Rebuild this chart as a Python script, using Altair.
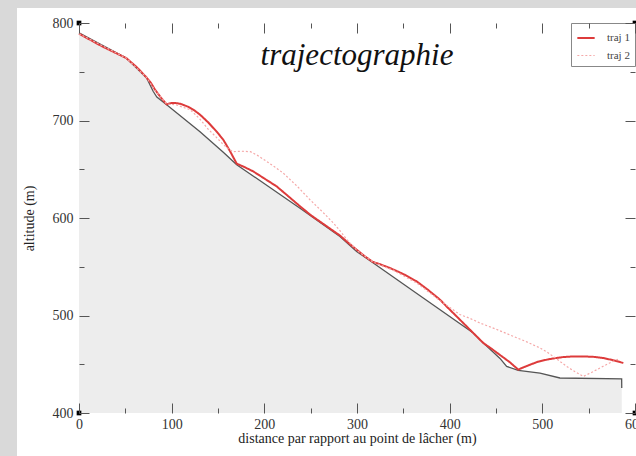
import altair as alt
import pandas as pd

# ---- data ----
terrain_x = [0, 51, 73, 80, 84, 94.6, 130.6, 155.7, 170.2, 238.5, 281.6, 299.6, 317.6,
             371.5, 425.5, 432.7, 454.3, 461.5, 474, 497.5, 519, 585.6, 585.7]
terrain_y = [790, 764, 743.6, 730, 724, 716.2, 688.5, 667.5, 654.7, 610, 581, 565.7, 553.8,
             518, 482, 475, 456, 447.8, 443.7, 441, 435.9, 434.9, 425.6]

traj1_x = [0, 25, 51, 62, 73, 78, 82, 88, 94.6, 99, 103.6, 110, 118, 125, 130.6, 139.5,
           148.6, 155.7, 163, 170.2, 178, 188, 200, 213.3, 225, 238.5, 250, 267.3, 281.6,
           290, 299.6, 308, 317, 325, 335.6, 350, 364.4, 377, 389.6, 398, 407.6, 421.9,
           436.3, 445, 454.3, 465, 474, 480, 486.7, 495, 504.6, 514, 522.6, 533, 544.2,
           555, 565.8, 577, 587.4]
traj1_y = [789, 776, 764, 755, 744, 738, 731.6, 724, 716.5, 717.8, 718, 717, 714, 710, 706,
           698, 688.5, 680.3, 668.5, 655.7, 652.5, 647.8, 640.5, 632.4, 623, 612, 603,
           591.5, 582, 575, 567.5, 561, 555, 552.5, 548.7, 542.5, 535, 526, 516.2, 508,
           499, 485.4, 471.8, 466, 459.5, 452, 444.5, 447, 449.5, 452.5, 454.7, 456.3,
           457.4, 458, 458, 457.6, 456.4, 454, 451.3]

traj2_x = [0, 51, 73, 82, 94.6, 105, 120, 130, 139.5, 148, 155, 161, 166, 175, 185, 193,
           202.5, 211, 220.5, 235, 249, 262, 274.4, 282, 288.9, 299.6, 317, 340, 365, 390,
           411, 422, 432.7, 450, 468.7, 483, 497.5, 505, 511.8, 519, 526.2, 535, 544.2,
           553, 562.2, 572, 582]
traj2_y = [789, 764, 744, 731, 717, 716, 711, 702, 691, 683, 676, 671, 668, 668.5, 668,
           664, 658, 652.5, 646, 633, 619, 607, 595, 586.5, 578, 567, 555, 546, 533, 515,
           501, 497, 492.3, 486, 478.6, 473, 466.7, 462.5, 458, 453, 447.8, 442.5, 437.5,
           441.5, 446.2, 451, 455.4]

series_names = ["traj 1", "traj 2"]
series_colors = ["#dd3b3b", "#f5a8a8"]
series_widths = [2, 1.2]
series_dash = [[1, 0], [2, 2]]

x_domain = [0, 600]
y_domain = [400, 800]
x_major = [0, 100, 200, 300, 400, 500, 600]
x_minor = [50, 150, 250, 350, 450, 550]
y_major = [400, 500, 600, 700, 800]
y_minor = [450, 550, 650, 750]

title_text = "trajectographie"
x_title = "distance par rapport au point de lâcher (m)"
y_title = "altitude (m)"

FONT = "Liberation Serif"

# ---- tables ----
terrain = pd.DataFrame({"x": terrain_x, "y": terrain_y,
                        "base": [y_domain[0]] * len(terrain_x),
                        "i": list(range(len(terrain_x)))})
traj = pd.concat([
    pd.DataFrame({"x": traj1_x, "y": traj1_y, "traj": series_names[0],
                  "i": list(range(len(traj1_x)))}),
    pd.DataFrame({"x": traj2_x, "y": traj2_y, "traj": series_names[1],
                  "i": list(range(len(traj2_x)))}),
])
corners = pd.DataFrame({"x": [x_domain[0], x_domain[0], x_domain[1], x_domain[1]],
                        "y": [y_domain[0], y_domain[1], y_domain[0], y_domain[1]]})
dummy = pd.DataFrame({"a": [0]})

xs = alt.Scale(domain=x_domain, nice=False, zero=False)
ys = alt.Scale(domain=y_domain, nice=False, zero=False)


def tick_axis(orient, values, size, **kw):
    return alt.Axis(orient=orient, values=values, tickSize=size, offset=-size,
                    domain=False, grid=False, ticks=True, tickColor="#555",
                    tickWidth=1, zindex=1, **kw)


lab = dict(labelFont=FONT, labelFontSize=14, labelColor="#333",
           titleFont=FONT, titleFontSize=14, titleColor="#222",
           titleFontWeight="normal")

panel = alt.Chart(dummy).mark_rect(fill="white").encode(
    x=alt.value(-62), x2=alt.value(600), y=alt.value(-15), y2=alt.value(450)
)

area = alt.Chart(terrain).mark_area(color="#ededed").encode(
    x=alt.X("x:Q", scale=xs, title=x_title,
            axis=tick_axis("bottom", x_major, 10, labels=True, labelPadding=4,
                           titlePadding=0, labelFlush=False, **lab)),
    y=alt.Y("y:Q", scale=ys, title=y_title,
            axis=tick_axis("left", y_major, 10, labels=True, labelPadding=6,
                           titlePadding=16, **lab)),
    y2="base:Q",
)

terrain_line = alt.Chart(terrain).mark_line(color="#555555", strokeWidth=1.3).encode(
    x=alt.X("x:Q", scale=xs, title=None, axis=tick_axis("top", x_major, 10, labels=False)),
    y=alt.Y("y:Q", scale=ys, title=None, axis=tick_axis("right", y_major, 10, labels=False)),
    order="i:Q",
)

traj_lines = alt.Chart(traj).mark_line().encode(
    x=alt.X("x:Q", scale=xs, title=None, axis=tick_axis("bottom", x_minor, 5, labels=False)),
    y=alt.Y("y:Q", scale=ys, title=None, axis=tick_axis("left", y_minor, 5, labels=False)),
    color=alt.Color("traj:N", scale=alt.Scale(domain=series_names, range=series_colors),
                    title=None),
    strokeDash=alt.StrokeDash("traj:N", scale=alt.Scale(domain=series_names, range=series_dash),
                              title=None),
    strokeWidth=alt.StrokeWidth("traj:N", scale=alt.Scale(domain=series_names, range=series_widths),
                                title=None),
    detail="traj:N",
    order="i:Q",
)

squares = alt.Chart(corners).mark_square(color="black", size=22, opacity=1).encode(
    x=alt.X("x:Q", scale=xs, title=None, axis=tick_axis("top", x_minor, 5, labels=False)),
    y=alt.Y("y:Q", scale=ys, title=None, axis=tick_axis("right", y_minor, 5, labels=False)),
)

chart = alt.layer(panel, area, terrain_line, traj_lines, squares).resolve_axis(
    x="independent", y="independent"
).properties(
    width=556,
    height=390,
    autosize=alt.AutoSizeParams(type="none"),
    padding={"left": 79, "top": 23, "right": 1, "bottom": 43},
    background="#d9d9d9",
    title=alt.TitleParams(title_text, font=FONT, fontSize=31, fontStyle="italic",
                          fontWeight="normal", color="#111", anchor="middle",
                          offset=-64),
).configure_view(
    stroke=None
).configure_legend(
    orient="top-right",
    offset=0,
    padding=5,
    strokeColor="#888",
    fillColor="white",
    symbolType="stroke",
    symbolSize=300,
    labelFont=FONT,
    labelFontSize=11,
    labelColor="#444",
    labelOffset=11,
    rowPadding=3,
)

chart.save("out.html", embed_options={"renderer": "svg", "actions": False})
